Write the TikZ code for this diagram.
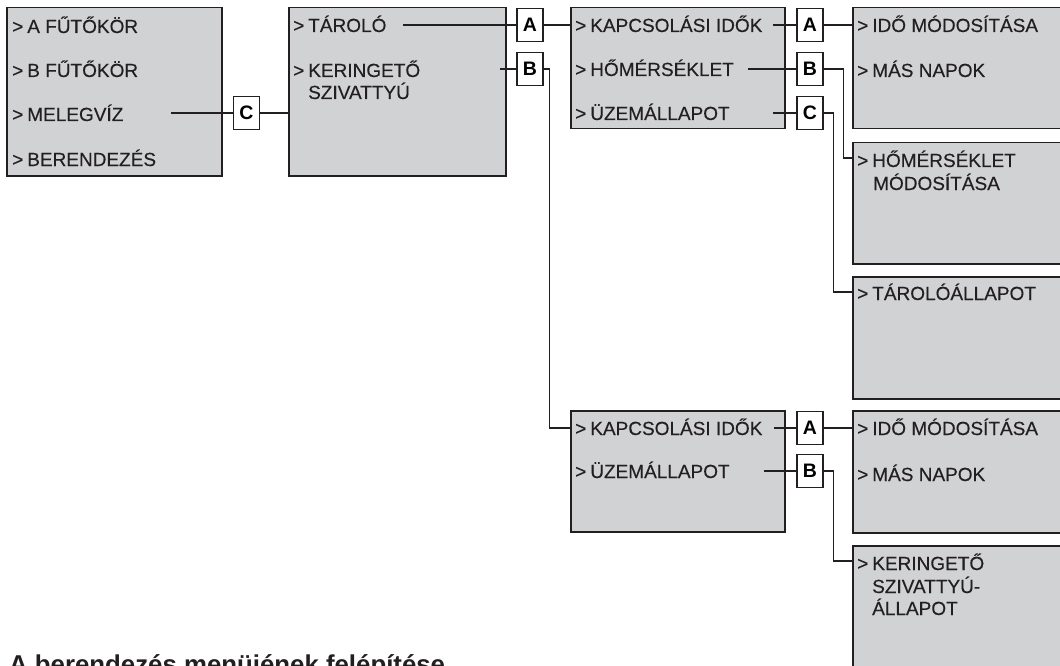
\documentclass[tikz,border=0pt]{standalone}
\usepackage{fontspec}
\setmainfont{Liberation Sans}
\newfontfamily\itemfont{Liberation Sans}[FakeBold=0.3]
\usetikzlibrary{calc}
\definecolor{panelgray}{HTML}{D1D2D4}
\definecolor{ink}{HTML}{231F20}
\newcommand{\mgt}{>\hspace{4pt}}
\tikzset{
  panel/.style={draw=ink, fill=panelgray, line width=1.5pt, rectangle, inner sep=0pt, anchor=north west},
  tag/.style={draw=ink, fill=white, line width=1.3pt, rectangle, inner sep=0pt, minimum width=26pt, minimum height=33pt, font=\fontsize{19.5}{21}\selectfont\bfseries},
  txt/.style={inner sep=0pt, anchor=base west, text=ink, font=\itemfont\fontsize{19}{22}\selectfont},
  wire/.style={draw=ink, line width=1.3pt},
}
\begin{document}
\begin{tikzpicture}[x=1pt, y=-1pt]
\path[use as bounding box, clip] (0,0) rectangle (1060,666);
\fill[white] (0,0) rectangle (1060,666);

% panels
\node[panel, minimum width=215, minimum height=168] (b1) at (6,7) {};
\node[panel, minimum width=217, minimum height=168] (b2) at (288,7) {};
\node[panel, minimum width=214, minimum height=121] (b3) at (570,7) {};
\node[panel, minimum width=240, minimum height=121] (b4) at (852,7) {};
\node[panel, minimum width=240, minimum height=121] (b5) at (852,142) {};
\node[panel, minimum width=240, minimum height=122] (b6) at (852,276) {};
\node[panel, minimum width=214, minimum height=121] (b3b) at (570,410) {};
\node[panel, minimum width=240, minimum height=122] (b4b) at (852,410) {};
\node[panel, minimum width=240, minimum height=150] (b5b) at (852,545) {};

% texts
\node[txt] (t11) at (12,33) {\mgt A FŰTŐKÖR};
\node[txt] (t12) at (12,77) {\mgt B FŰTŐKÖR};
\node[txt] (t13) at (12,121) {\mgt MELEGVÍZ};
\node[txt] (t14) at (12,166) {\mgt BERENDEZÉS};

\node[txt] (t21) at (293,32) {\mgt TÁROLÓ};
\node[txt] (t22) at (293,77) {\mgt KERINGETŐ};
\node[txt] (t22b) at (308,99) {SZIVATTYÚ};

\node[txt] (t31) at (575,32) {\mgt KAPCSOLÁSI IDŐK};
\node[txt] (t32) at (575,76) {\mgt HŐMÉRSÉKLET};
\node[txt] (t33) at (575,120) {\mgt ÜZEMÁLLAPOT};

\node[txt] (t41) at (857,32) {\mgt IDŐ MÓDOSÍTÁSA};
\node[txt] (t42) at (857,77) {\mgt MÁS NAPOK};

\node[txt] (t51) at (857,167) {\mgt HŐMÉRSÉKLET};
\node[txt] (t51b) at (873,190) {MÓDOSÍTÁSA};

\node[txt] (t61) at (857,300) {\mgt TÁROLÓÁLLAPOT};

\node[txt] (t3b1) at (575,435) {\mgt KAPCSOLÁSI IDŐK};
\node[txt] (t3b2) at (575,478) {\mgt ÜZEMÁLLAPOT};

\node[txt] (t4b1) at (857,435) {\mgt IDŐ MÓDOSÍTÁSA};
\node[txt] (t4b2) at (857,481) {\mgt MÁS NAPOK};

\node[txt] (t5b1) at (857,570) {\mgt KERINGETŐ};
\node[txt] (t5b2) at (872,593) {SZIVATTYÚ-};
\node[txt] (t5b3) at (872,615) {ÁLLAPOT};

% tags
\node[tag] (C1) at (246.5,113) {C};
\node[tag] (A1) at (530,25) {A};
\node[tag] (B1) at (530,69) {B};
\node[tag] (A2) at (810,25) {A};
\node[tag] (B2) at (810,69) {B};
\node[tag] (C2) at (810,113) {C};
\node[tag] (A3) at (810,428) {A};
\node[tag] (B3) at (810,471) {B};

% line starts
\coordinate (s13) at (171,113);
\coordinate (s21) at (403,25);
\coordinate (s22) at (500,69);
\coordinate (s31) at (773,25);
\coordinate (s32) at (748,69);
\coordinate (s33) at (773,113);
\coordinate (s3b1) at (774,428);
\coordinate (s3b2) at (764,471);

% connectors
\draw[wire] (s13) -- (C1.west);
\draw[wire] (C1.east) -- (C1 -| b2.west);
\draw[wire] (s21) -- (A1.west);
\draw[wire] (A1.east) -- (A1 -| b3.west);
\draw[wire] (s22) -- (B1.west);
\draw[wire] (B1.east) -- ++(6,0) |- (A3 -| b3b.west);
\draw[wire] (s31) -- (A2.west);
\draw[wire] (A2.east) -- (A2 -| b4.west);
\draw[wire] (s32) -- (B2.west);
\draw[wire] (B2.east) -- ++(20,0) |- ($(b5.north west)+(0,16)$);
\draw[wire] (s33) -- (C2.west);
\draw[wire] (C2.east) -- ++(10,0) |- ($(b6.north west)+(0,16)$);
\draw[wire] (s3b1) -- (A3.west);
\draw[wire] (A3.east) -- (A3 -| b4b.west);
\draw[wire] (s3b2) -- (B3.west);
\draw[wire] (B3.east) -- ++(10,0) |- ($(b5b.north west)+(0,16)$);

% title
\node[txt, font=\fontsize{25.8}{28}\selectfont\bfseries] (title) at (9,673) {A berendezés menüjének felépítése};
\end{tikzpicture}
\end{document}
